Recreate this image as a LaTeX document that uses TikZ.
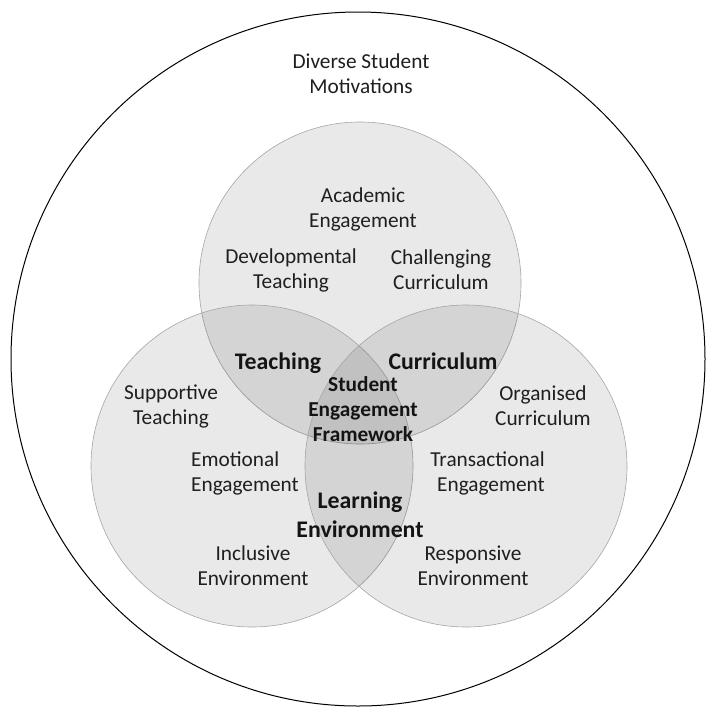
\documentclass[tikz,border=0pt]{standalone}
\usepackage{fontspec}
\setmainfont{Carlito}
\begin{document}
\begin{tikzpicture}[x=1pt,y=-1pt,
  venn/.style={draw=black!35, line width=0.6pt, fill=black, fill opacity=0.085},
  lbl/.style={align=center, text=black!88, font=\fontsize{21.3}{25}\selectfont, inner sep=0pt},
  big/.style={align=center, text=black!92, font=\fontsize{23.8}{29}\selectfont\bfseries, inner sep=0pt},
  mid/.style={align=center, text=black!92, font=\fontsize{21.3}{25}\selectfont\bfseries, inner sep=0pt}]
\useasboundingbox (0,0) rectangle (705,710);
\fill[white] (0,0) rectangle (705,710);
\draw[line width=1pt] (358,359) circle[radius=347];
\path[venn] (360,283) circle[radius=161];
\path[venn] (252,466) circle[radius=161];
\path[venn] (466,466) circle[radius=161];
\node[lbl] (div) at (361,74) {Diverse Student\\Motivations};
\node[lbl] (acad) at (363,209) {Academic\\Engagement};
\node[lbl] (dev) at (291,270) {Developmental\\Teaching};
\node[lbl] (chal) at (441,270) {Challenging\\Curriculum};
\node[big] (teach) at (278,363) {Teaching};
\node[big] (curr) at (443,361) {Curriculum};
\node[mid] (sef) at (363,409) {Student\\Engagement\\Framework};
\node[lbl] (supp) at (171,406) {Supportive\\Teaching};
\node[lbl] (org) at (543,406) {Organised\\Curriculum};
\node[lbl, align=left, anchor=west] (emo) at (191,473) {Emotional\\Engagement};
\node[lbl, align=right, anchor=east] (trans) at (545,473) {Transactional\\Engagement};
\node[big] (le) at (360,515) {Learning\\Environment};
\node[lbl] (incl) at (253,566) {Inclusive\\Environment};
\node[lbl] (resp) at (473,566) {Responsive\\Environment};
\end{tikzpicture}
\end{document}
